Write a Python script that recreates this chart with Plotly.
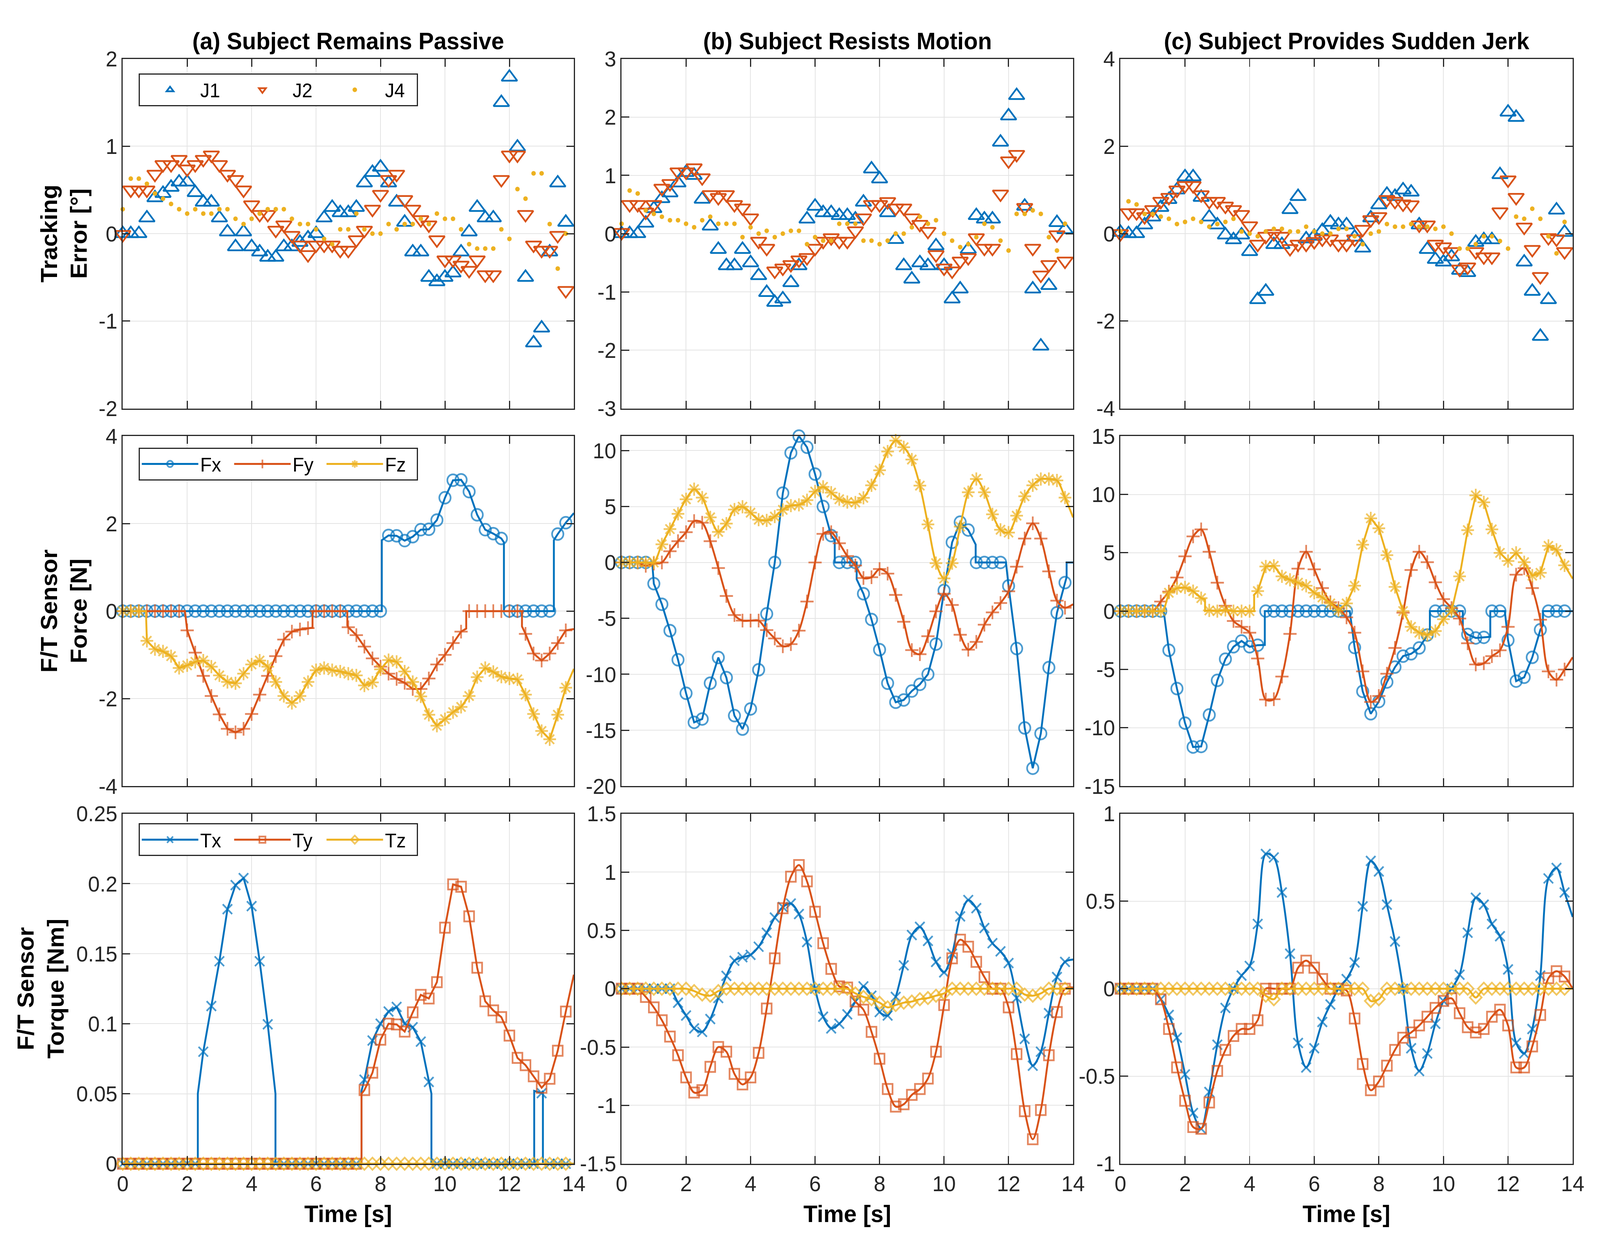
import plotly.graph_objects as go

BLUE = "#0072BD"
ORANGE = "#D95319"
YELLOW = "#EDB120"
FONT = "Liberation Sans, Arial, sans-serif"

# ---------------- sample times (markers every 0.25 s) ----------------
TIME = [0.0, 0.25, 0.5, 0.75, 1.0, 1.25, 1.5, 1.75, 2.0, 2.25, 2.5, 2.75,
        3.0, 3.25, 3.5, 3.75, 4.0, 4.25, 4.5, 4.75, 5.0, 5.25, 5.5, 5.75,
        6.0, 6.25, 6.5, 6.75, 7.0, 7.25, 7.5, 7.75, 8.0, 8.25, 8.5, 8.75,
        9.0, 9.25, 9.5, 9.75, 10.0, 10.25, 10.5, 10.75, 11.0, 11.25, 11.5, 11.75,
        12.0, 12.25, 12.5, 12.75, 13.0, 13.25, 13.5, 13.75]
T_END = 14.0

# ---------------- Row 1: tracking error [deg] ----------------
J1_a = [0, 0, 0, 0.18, 0.41, 0.46, 0.53, 0.59, 0.59, 0.47, 0.36, 0.36,
        0.18, 0.02, -0.15, 0.02, -0.15, -0.21, -0.27, -0.27, -0.15, -0.15, -0.10, -0.05,
        0.0, 0.18, 0.30, 0.24, 0.24, 0.30, 0.58, 0.70, 0.76, 0.58, 0.36, 0.13,
        -0.21, -0.21, -0.50, -0.55, -0.50, -0.45, -0.21, 0.02, 0.30, 0.18, 0.18, 1.50,
        1.79, 0.99, -0.50, -1.25, -1.08, -0.21, 0.58, 0.13]
J2_a = [-0.01, 0.5, 0.5, 0.5, 0.68, 0.79, 0.79, 0.85, 0.74, 0.79, 0.85, 0.90,
        0.79, 0.68, 0.62, 0.50, 0.33, 0.22, 0.22, 0.04, 0.10, -0.02, -0.13, -0.24,
        -0.13, -0.13, -0.13, -0.19, -0.19, -0.07, 0.04, 0.28, 0.45, 0.62, 0.68, 0.39,
        0.28, 0.16, 0.10, -0.07, -0.30, -0.30, -0.36, -0.42, -0.30, -0.47, -0.47, 0.62,
        0.90, 0.90, 0.22, -0.13, -0.19, -0.19, -0.02, -0.65]
J4_a = [0.28, 0.63, 0.63, 0.57, 0.46, 0.40, 0.34, 0.28, 0.23, 0.28, 0.23, 0.23,
        0.28, 0.28, 0.17, 0.11, 0.17, 0.23, 0.28, 0.28, 0.28, 0.17, 0.11, 0.11,
        0.05, -0.06, -0.12, 0.05, 0.05, 0.23, 0.05, 0.0, 0.0, 0.11, 0.05, 0.11,
        0.11, 0.17, 0.11, 0.23, 0.17, 0.17, 0.05, -0.12, -0.17, -0.17, -0.17, 0.05,
        -0.06, 0.51, 0.40, 0.69, 0.69, 0.11, -0.40, 0.0]

J1_b = [0, 0, 0, 0.18, 0.43, 0.60, 0.70, 0.87, 1.05, 1.00, 0.59, 0.13,
        -0.27, -0.55, -0.55, -0.27, -0.50, -0.72, -1.01, -1.18, -1.12, -0.84, -0.55, 0.25,
        0.47, 0.36, 0.36, 0.31, 0.31, 0.25, 0.54, 1.11, 0.94, 0.36, -0.10, -0.55,
        -0.78, -0.50, -0.55, -0.21, -0.55, -1.12, -0.95, -0.27, 0.31, 0.25, 0.25, 1.57,
        2.02, 2.37, 0.47, -0.95, -1.93, -0.89, 0.19, 0.07]
J2_b = [0.02, 0.50, 0.50, 0.37, 0.50, 0.78, 0.86, 1.06, 1.06, 1.13, 0.96, 0.67,
        0.62, 0.67, 0.50, 0.44, 0.27, -0.13, -0.25, -0.64, -0.59, -0.53, -0.45, -0.41,
        -0.25, -0.13, -0.07, -0.13, -0.13, 0.05, 0.27, 0.50, 0.50, 0.55, 0.44, 0.44,
        0.27, 0.16, 0.04, -0.36, -0.59, -0.64, -0.47, -0.41, -0.07, -0.25, -0.25, 0.68,
        1.25, 1.36, 0.45, -0.25, -0.71, -0.53, -0.02, -0.47]
J4_b = [0.17, 0.74, 0.69, 0.40, 0.34, 0.29, 0.23, 0.23, 0.17, 0.11, 0.23, 0.29,
        0.17, 0.17, 0.17, -0.06, 0.11, 0.0, 0.05, -0.06, 0.0, 0.05, 0.05, -0.18,
        -0.06, -0.12, -0.12, 0.17, 0.17, 0.17, -0.12, -0.12, -0.18, -0.12, 0.0, 0.0,
        0.11, 0.29, 0.17, 0.23, 0.0, -0.12, -0.23, -0.18, -0.06, 0.17, 0.11, -0.12,
        -0.29, 0.34, 0.34, 0.40, 0.34, -0.06, -0.29, 0.17]

J1_c = [0.03, 0, 0, 0.20, 0.38, 0.60, 0.78, 1.00, 1.30, 1.30, 0.83, 0.38,
        0.20, -0.03, -0.14, -0.03, -0.41, -1.51, -1.32, -0.25, -0.25, 0.55, 0.85, -0.12,
        -0.06, 0.07, 0.26, 0.20, 0.20, -0.08, -0.33, 0.36, 0.66, 0.90, 0.85, 1.00,
        0.95, 0.20, -0.36, -0.59, -0.65, -0.53, -0.84, -0.89, -0.20, -0.14, -0.14, 1.35,
        2.78, 2.66, -0.65, -1.32, -2.35, -1.51, 0.54, 0.03]
J2_c = [0, 0.48, 0.48, 0.39, 0.55, 0.74, 0.83, 1.00, 1.10, 1.10, 0.89, 0.74,
        0.74, 0.63, 0.55, 0.44, 0.18, -0.24, -0.06, 0.0, -0.06, -0.34, -0.24, -0.24,
        -0.18, -0.12, -0.12, -0.24, -0.24, -0.12, 0.10, 0.32, 0.39, 0.78, 0.74, 0.68,
        0.66, 0.20, 0.20, -0.24, -0.30, -0.41, -0.81, -0.76, -0.41, -0.53, -0.53, 0.50,
        1.23, 0.83, 0.15, -0.36, -0.98, -0.09, -0.12, -0.41]
J4_c = [0.05, 0.74, 0.67, 0.45, 0.45, 0.39, 0.34, 0.22, 0.27, 0.34, 0.27, 0.16,
        0.22, 0.27, 0.34, 0.05, 0.0, -0.06, 0.05, 0.11, 0.11, 0.05, 0.05, 0.16,
        0.05, 0.0, 0.0, 0.11, 0.11, -0.06, -0.24, 0.0, 0.05, 0.22, 0.16, 0.16,
        0.22, 0.16, 0.16, 0.11, 0.16, 0.0, -0.34, -0.34, -0.24, -0.06, -0.06, -0.17,
        -0.34, 0.39, 0.34, 0.57, 0.34, -0.06, -0.45, 0.27]

# ---------------- Row 2: F/T sensor force [N] ----------------
Fx_a = [0, 0, 0, 0, 0, 0, 0, 0, 0, 0, 0, 0,
        0, 0, 0, 0, 0, 0, 0, 0, 0, 0, 0, 0,
        0, 0, 0, 0, 0, 0, 0, 0, 0, 1.73, 1.72, 1.61,
        1.70, 1.86, 1.87, 2.08, 2.59, 2.99, 3.00, 2.73, 2.20, 1.86, 1.77, 1.66,
        0, 0, 0, 0, 0, 0, 1.76, 2.02]
Fx_a_end = 2.24
Fx_a_steps = [(8.04, 0), (8.04, 1.62), (11.83, 1.57), (11.83, 0), (13.38, 0), (13.38, 1.62)]
Fy_a = [0, 0, 0, 0, 0, 0, 0, 0, -0.44, -0.95, -1.48, -1.94,
        -2.36, -2.69, -2.77, -2.69, -2.35, -1.91, -1.48, -1.03, -0.65, -0.47, -0.42, -0.39,
        0, 0, 0, 0, -0.37, -0.55, -0.81, -1.08, -1.27, -1.43, -1.55, -1.64,
        -1.78, -1.78, -1.54, -1.22, -1.00, -0.73, -0.47, 0, 0, 0, 0, 0,
        0, 0, -0.52, -0.97, -1.13, -0.97, -0.73, -0.44]
Fy_a_end = -0.41
Fy_a_steps = [(1.93, 0), (5.89, -0.38), (5.89, 0), (6.97, 0), (6.97, -0.33),
              (10.66, -0.40), (10.66, 0), (12.39, 0), (12.39, -0.35)]
Fz_a = [0, 0, 0, -0.68, -0.87, -0.92, -1.03, -1.30, -1.24, -1.16, -1.13, -1.27,
        -1.47, -1.62, -1.65, -1.43, -1.22, -1.13, -1.27, -1.62, -1.94, -2.10, -1.94, -1.62,
        -1.35, -1.30, -1.35, -1.38, -1.43, -1.47, -1.70, -1.63, -1.33, -1.12, -1.16, -1.38,
        -1.62, -1.95, -2.37, -2.62, -2.47, -2.31, -2.19, -1.94, -1.51, -1.30, -1.39, -1.50,
        -1.54, -1.56, -1.91, -2.35, -2.74, -2.93, -2.37, -1.75]
Fz_a_end = -1.32
Fz_a_steps = [(0.72, 0)]

Fx_b = [0, 0, 0, 0, -1.9, -3.74, -6.1, -8.7, -11.7, -14.3, -14.0, -10.8,
        -8.5, -10.3, -13.7, -14.9, -13.1, -9.6, -4.6, 0.0, 6.2, 9.8, 11.3, 10.3,
        7.9, 5.0, 2.4, 0, 0, 0, -2.8, -5.1, -7.8, -10.8, -12.5, -12.3,
        -11.5, -10.9, -10.0, -7.3, -2.5, 1.8, 3.6, 2.9, 0, 0, 0, 0,
        -2.1, -7.7, -14.8, -18.4, -15.3, -9.4, -4.5, -1.8]
Fx_b_end = 0
Fx_b_steps = [(0.95, 0), (6.61, 2.0), (6.61, 0), (7.29, 0), (7.29, -1.5),
              (10.98, 1.6), (10.98, 0), (11.92, 0), (13.8, -1.3), (13.8, 0)]
Fy_b = [0, 0, 0, -0.3, -0.1, 0.0, 1.0, 1.9, 2.7, 3.7, 3.55, 1.9,
        -0.5, -3.0, -4.7, -5.2, -5.2, -5.2, -6.05, -6.8, -7.5, -7.3, -6.1, -3.5,
        0.0, 2.56, 2.7, 1.72, 0.57, -0.27, -1.39, -1.32, -0.59, -1.0, -2.9, -5.3,
        -7.84, -8.2, -6.6, -4.37, -2.8, -3.8, -6.47, -7.8, -7.1, -5.57, -4.47, -3.63,
        -2.58, -0.38, 2.14, 3.5, 2.14, -0.8, -3.42, -4.05]
Fy_b_end = -3.74
Fz_b = [0, 0, 0, 0, 0, 1.62, 2.98, 4.35, 5.65, 6.55, 5.8, 4.03,
        2.73, 3.47, 4.73, 4.98, 4.45, 3.82, 3.76, 4.1, 4.7, 5.08, 5.15, 5.57,
        6.34, 6.76, 6.24, 5.65, 5.4, 5.36, 5.78, 6.9, 8.24, 9.92, 10.9, 10.3,
        9.2, 6.87, 3.4, -0.06, -1.43, -0.06, 3.2, 6.28, 7.46, 6.28, 4.3, 2.92,
        2.67, 4.18, 5.92, 6.9, 7.46, 7.46, 7.33, 5.8]
Fz_b_end = 4.03

Fx_c = [0, 0, 0, 0, 0, 0, -3.36, -6.64, -9.6, -11.65, -11.6, -8.9,
        -5.94, -4.12, -3.06, -2.56, -3.06, -2.92, 0, 0, 0, 0, 0, 0,
        0, 0, 0, 0, 0, -3.12, -6.88, -8.8, -7.75, -6.08, -4.8, -3.86,
        -3.66, -3.16, -2.05, 0, 0, 0, 0, -2.0, -2.3, -2.25, 0, 0,
        -2.5, -6.0, -5.67, -3.96, -1.6, 0, 0, 0]
Fx_c_end = 0
Fx_c_steps = [(1.34, 0), (4.47, -2.9), (4.47, 0), (7.1, 0), (9.58, -1.8), (9.58, 0),
              (10.6, 0), (10.6, -1.6), (11.45, -2.2), (11.45, 0), (11.9, 0),
              (13.08, -1.2), (13.08, 0)]
Fy_c = [0, 0, 0, 0, 0, 0.82, 1.67, 2.88, 4.69, 6.4, 7.0, 5.09,
        2.43, 0.46, -0.85, -1.35, -1.85, -4.06, -7.59, -7.55, -5.61, -1.95, 3.64, 5.09,
        3.58, 1.97, 0.76, 0.26, -0.54, -1.85, -5.17, -7.79, -7.28, -5.37, -3.16, -0.14,
        3.52, 5.09, 4.19, 2.47, 1.03, 0.26, -0.64, -2.76, -4.57, -4.47, -3.86, -3.36,
        -1.35, 3.12, 3.68, 1.97, -0.74, -5.17, -5.88, -5.01]
Fy_c_end = -3.96
Fz_c = [0, 0, 0, 0, 0, 0, 1.57, 1.97, 2.03, 1.71, 1.11, 0.06,
        0, 0.1, 0, 0, 0, 1.71, 3.82, 3.88, 2.98, 2.68, 2.43, 2.17,
        1.57, 1.17, 0.66, 0.06, 0.66, 2.17, 5.69, 7.95, 7.1, 4.79, 2.07, 0,
        -1.35, -1.85, -2.05, -1.71, -0.7, 0, 2.98, 6.94, 9.92, 9.32, 7.0, 4.99,
        4.29, 4.99, 4.19, 3.04, 3.28, 5.59, 5.25, 3.92]
Fz_c_end = 2.78
Fz_c_steps = [(1.34, 0), (2.62, 1.0), (2.62, 0), (4.14, 0), (4.14, 1.4)]

# ---------------- Row 3: F/T sensor torque [Nm] ----------------
Tx_a = [0, 0, 0, 0, 0, 0, 0, 0, 0, 0, 0.08, 0.1126,
        0.1446, 0.1818, 0.199, 0.204, 0.184, 0.1446, 0.0996, 0, 0, 0, 0, 0,
        0, 0, 0, 0, 0, 0, 0.06, 0.088, 0.1, 0.1087, 0.112, 0.1,
        0.0975, 0.0872, 0.0584, 0, 0, 0, 0, 0, 0, 0, 0, 0,
        0, 0, 0, 0, 0.0504, 0, 0, 0]
Tx_a_end = 0
Tx_a_steps = [(2.33, 0), (2.33, 0.05), (4.74, 0.05), (4.74, 0), (7.41, 0), (7.41, 0.052),
              (9.58, 0.05), (9.58, 0), (12.77, 0), (12.77, 0.052), (13.04, 0.052), (13.04, 0)]
Ty_a = [0, 0, 0, 0, 0, 0, 0, 0, 0, 0, 0, 0,
        0, 0, 0, 0, 0, 0, 0, 0, 0, 0, 0, 0,
        0, 0, 0, 0, 0, 0, 0.0526, 0.065, 0.0886, 0.1, 0.0995, 0.0944,
        0.1081, 0.1206, 0.118, 0.1297, 0.1686, 0.1995, 0.1978, 0.1767, 0.14, 0.116, 0.1095, 0.1047,
        0.0915, 0.0756, 0.0704, 0.0624, 0.0543, 0.0607, 0.0807, 0.1087]
Ty_a_end = 0.135
Ty_a_steps = [(7.41, 0), (7.41, 0.05)]
Tz_a = [0, 0, 0, 0, 0, 0, 0, 0, 0, 0, 0, 0,
        0, 0, 0, 0, 0, 0, 0, 0, 0, 0, 0, 0,
        0, 0, 0, 0, 0, 0, 0, 0, 0, 0, 0, 0,
        0, 0, 0, 0, 0, 0, 0, 0, 0, 0, 0, 0,
        0, 0, 0, 0, 0, 0, 0, 0]
Tz_a_end = 0

Tx_b = [0, 0, 0, 0, 0, 0, 0, -0.12, -0.23, -0.34, -0.37, -0.26,
        -0.08, 0.11, 0.24, 0.27, 0.29, 0.36, 0.48, 0.61, 0.70, 0.73, 0.64, 0.40,
        0, -0.24, -0.34, -0.30, -0.22, -0.11, 0.02, -0.06, -0.20, -0.23, -0.07, 0.20,
        0.46, 0.53, 0.41, 0.23, 0.14, 0.30, 0.62, 0.76, 0.69, 0.52, 0.39, 0.32,
        0.22, -0.08, -0.43, -0.66, -0.54, -0.21, 0.10, 0.23]
Tx_b_end = 0.25
Ty_b = [0, 0, 0, -0.07, -0.16, -0.27, -0.41, -0.57, -0.76, -0.89, -0.87, -0.67,
        -0.50, -0.54, -0.73, -0.82, -0.76, -0.55, -0.17, 0.26, 0.69, 0.96, 1.06, 0.92,
        0.66, 0.39, 0.17, 0.02, 0.01, -0.11, -0.18, -0.37, -0.60, -0.86, -1.01, -0.99,
        -0.91, -0.86, -0.77, -0.54, -0.14, 0.26, 0.42, 0.36, 0.23, 0.10, 0.0, 0.0,
        -0.16, -0.56, -1.05, -1.29, -1.04, -0.57, -0.20, 0.0]
Ty_b_end = 0.01
Tz_b = [0, 0, 0, 0, 0, 0, 0, 0, 0, -0.02, -0.05, -0.06,
        -0.02, 0, 0, 0, 0, 0, 0, 0, 0, 0, 0, 0,
        0, 0, 0, 0, 0, -0.04, -0.07, -0.09, -0.12, -0.16, -0.14, -0.12,
        -0.11, -0.09, -0.08, -0.06, -0.04, 0, 0, 0, 0, 0, 0, 0,
        0, 0, -0.05, -0.06, -0.04, 0, 0, 0]
Tz_b_end = 0

Tx_c = [0, 0, 0, 0, 0, -0.06, -0.15, -0.28, -0.49, -0.71, -0.80, -0.59,
        -0.32, -0.11, 0, 0.075, 0.13, 0.37, 0.77, 0.75, 0.55, 0.20, -0.31, -0.45,
        -0.34, -0.19, -0.09, 0, 0.055, 0.15, 0.47, 0.73, 0.67, 0.48, 0.27, 0,
        -0.34, -0.47, -0.37, -0.20, -0.07, 0, 0.08, 0.32, 0.52, 0.48, 0.37, 0.30,
        0.11, -0.31, -0.37, -0.23, 0.075, 0.63, 0.69, 0.55]
Tx_c_end = 0.41
Ty_c = [0, 0, 0, 0, 0, -0.06, -0.23, -0.45, -0.64, -0.79, -0.80, -0.65,
        -0.47, -0.35, -0.27, -0.23, -0.23, -0.18, 0, 0, 0, 0, 0.12, 0.16,
        0.12, 0.055, 0, 0, -0.01, -0.17, -0.43, -0.58, -0.53, -0.44, -0.35, -0.28,
        -0.25, -0.21, -0.16, -0.11, -0.07, -0.055, -0.14, -0.22, -0.25, -0.23, -0.16, -0.12,
        -0.21, -0.45, -0.45, -0.33, -0.15, 0.06, 0.10, 0.07]
Ty_c_end = 0.0
Tz_c = [0, 0, 0, 0, 0, 0, 0, 0, 0, 0, 0, 0,
        0, 0, 0, 0, 0, 0, -0.04, -0.06, 0, 0, 0, 0,
        0, 0, 0, 0, 0, 0, 0, -0.07, -0.06, 0, 0, 0,
        0, 0, 0, 0, 0, 0, 0, 0, -0.05, 0, 0, 0,
        0, 0, 0, 0, 0, 0, 0, 0]
Tz_c_end = 0

# ---------------- axis ticks ----------------
X_TICKS = [0, 2, 4, 6, 8, 10, 12, 14]
X_TICKTEXT = ["0", "2", "4", "6", "8", "10", "12", "14"]
Y_TICKS = [
    [-2, -1, 0, 1, 2], [-3, -2, -1, 0, 1, 2, 3], [-4, -2, 0, 2, 4],
    [-4, -2, 0, 2, 4], [-20, -15, -10, -5, 0, 5, 10], [-15, -10, -5, 0, 5, 10, 15],
    [0, 0.05, 0.1, 0.15, 0.2, 0.25], [-1.5, -1, -0.5, 0, 0.5, 1, 1.5], [-1, -0.5, 0, 0.5, 1],
]
Y_TICKTEXT = [
    ["-2", "-1", "0", "1", "2"], ["-3", "-2", "-1", "0", "1", "2", "3"], ["-4", "-2", "0", "2", "4"],
    ["-4", "-2", "0", "2", "4"], ["-20", "-15", "-10", "-5", "0", "5", "10"],
    ["-15", "-10", "-5", "0", "5", "10", "15"],
    ["0", "0.05", "0.1", "0.15", "0.2", "0.25"], ["-1.5", "-1", "-0.5", "0", "0.5", "1", "1.5"],
    ["-1", "-0.5", "0", "0.5", "1"],
]
Y_RANGES = [[-2, 2], [-3, 3], [-4, 4], [-4, 4], [-20, 11.3], [-15, 15],
            [0, 0.25], [-1.5, 1.5], [-1, 1]]

COL_TITLES = ["(a) Subject Remains Passive", "(b) Subject Resists Motion",
              "(c) Subject Provides Sudden Jerk"]
ROW_TITLES = ["Tracking<br>Error [°]", "F/T Sensor<br>Force [N]", "F/T Sensor<br>Torque [Nm]"]
X_TITLE = "Time [s]"

# ---------------- layout geometry (pixels) ----------------
W, H = 4244, 3197
COL_PX = [(313, 1523), (1651, 2862), (2989, 4202)]
ROW_PX = [(122, 1035), (1107, 2021), (2093, 3007)]

STYLE = {
    "J1": dict(color=BLUE, symbol="triangle-up-open", size=36),
    "J2": dict(color=ORANGE, symbol="triangle-down-open", size=36),
    "J4": dict(color=YELLOW, symbol="circle", size=12),
    "Fx": dict(color=BLUE, symbol="circle-open", size=30),
    "Fy": dict(color=ORANGE, symbol="cross-thin-open", size=25),
    "Fz": dict(color=YELLOW, symbol="asterisk-open", size=28),
    "Tx": dict(color=BLUE, symbol="x-thin-open", size=25),
    "Ty": dict(color=ORANGE, symbol="square-open", size=26),
    "Tz": dict(color=YELLOW, symbol="diamond-open", size=24),
}
LINE_W = 5
MARKER_LW = 4.5

ROW1 = [[("J1", J1_a), ("J2", J2_a), ("J4", J4_a)],
        [("J1", J1_b), ("J2", J2_b), ("J4", J4_b)],
        [("J1", J1_c), ("J2", J2_c), ("J4", J4_c)]]
ROW2 = [[("Fx", Fx_a, Fx_a_end, Fx_a_steps), ("Fy", Fy_a, Fy_a_end, Fy_a_steps), ("Fz", Fz_a, Fz_a_end, Fz_a_steps)],
        [("Fx", Fx_b, Fx_b_end, Fx_b_steps), ("Fy", Fy_b, Fy_b_end, None), ("Fz", Fz_b, Fz_b_end, None)],
        [("Fx", Fx_c, Fx_c_end, Fx_c_steps), ("Fy", Fy_c, Fy_c_end, None), ("Fz", Fz_c, Fz_c_end, Fz_c_steps)]]
ROW3 = [[("Tx", Tx_a, Tx_a_end, Tx_a_steps), ("Ty", Ty_a, Ty_a_end, Ty_a_steps), ("Tz", Tz_a, Tz_a_end, None)],
        [("Tx", Tx_b, Tx_b_end, None), ("Ty", Ty_b, Ty_b_end, None), ("Tz", Tz_b, Tz_b_end, None)],
        [("Tx", Tx_c, Tx_c_end, None), ("Ty", Ty_c, Ty_c_end, None), ("Tz", Tz_c, Tz_c_end, None)]]

LEGENDS = ["legend", "legend2", "legend3"]

fig = go.Figure()


def axis_names(k):
    return ("x" if k == 1 else f"x{k}"), ("y" if k == 1 else f"y{k}")


for c in range(3):
    # row 1: markers only
    k = c + 1
    xn, yn = axis_names(k)
    for name, vals in ROW1[c]:
        st = STYLE[name]
        fig.add_trace(go.Scatter(
            x=TIME, y=vals, mode="markers", name=name, xaxis=xn, yaxis=yn,
            legend=LEGENDS[0], showlegend=(c == 0), cliponaxis=False,
            marker=dict(symbol=st["symbol"], size=st["size"], color=st["color"],
                        line=dict(width=MARKER_LW if st["symbol"] != "circle" else 0,
                                  color=st["color"])),
        ))
    # rows 2 and 3: lines with markers
    for r, rowdata in ((1, ROW2), (2, ROW3)):
        k = r * 3 + c + 1
        xn, yn = axis_names(k)
        for name, vals, end, steps in rowdata[c]:
            st = STYLE[name]
            pts = [(t, v, st["size"]) for t, v in zip(TIME, vals)]
            pts.append((T_END, end, 0))
            if steps:
                pts += [(t, v, 0) for t, v in steps]
            pts.sort(key=lambda p: p[0])
            fig.add_trace(go.Scatter(
                x=[p[0] for p in pts], y=[p[1] for p in pts], mode="lines+markers",
                name=name, xaxis=xn, yaxis=yn, legend=LEGENDS[r],
                showlegend=(c == 0), cliponaxis=False,
                line=dict(color=st["color"], width=LINE_W,
                          shape="linear" if steps else "spline", smoothing=0.9),
                marker=dict(symbol=st["symbol"], size=[p[2] for p in pts], color=st["color"],
                            line=dict(width=MARKER_LW, color=st["color"])),
            ))

layout = dict(
    width=W, height=H, margin=dict(l=0, r=0, t=0, b=0),
    paper_bgcolor="white", plot_bgcolor="white",
    font=dict(family=FONT, size=55, color="#262626"),
    annotations=[],
)

AX_COMMON = dict(
    showline=True, mirror="ticks", linecolor="#262626", linewidth=3,
    ticks="inside", ticklen=20, tickwidth=3, tickcolor="#262626",
    showgrid=True, gridcolor="#e4e4e4", gridwidth=2, zeroline=False,
    tickfont=dict(family=FONT, size=56, color="#262626"),
)

for r in range(3):
    for c in range(3):
        k = r * 3 + c + 1
        xn, yn = axis_names(k)
        x0, x1 = COL_PX[c]
        y0, y1 = ROW_PX[r]
        layout["xaxis" if k == 1 else f"xaxis{k}"] = dict(
            AX_COMMON, domain=[x0 / W, x1 / W], anchor=yn, range=[0, 14],
            tickmode="array", tickvals=X_TICKS, ticktext=X_TICKTEXT,
            showticklabels=(r == 2),
        )
        layout["yaxis" if k == 1 else f"yaxis{k}"] = dict(
            AX_COMMON, domain=[1 - y1 / H, 1 - y0 / H], anchor=xn, range=Y_RANGES[k - 1],
            tickmode="array", tickvals=Y_TICKS[k - 1], ticktext=Y_TICKTEXT[k - 1],
        )

# column titles and x-axis titles
for c in range(3):
    xc = (COL_PX[c][0] + COL_PX[c][1]) / 2 / W
    layout["annotations"].append(dict(
        text=f"<b>{COL_TITLES[c]}</b>", x=xc, y=1 - 75 / H, xref="paper", yref="paper",
        xanchor="center", yanchor="middle", showarrow=False,
        font=dict(family=FONT, size=61, color="black")))
    layout["annotations"].append(dict(
        text=f"<b>{X_TITLE}</b>", x=xc, y=1 - 3138 / H, xref="paper", yref="paper",
        xanchor="center", yanchor="middle", showarrow=False,
        font=dict(family=FONT, size=61, color="black")))

# row (y-axis) titles
ROW_TITLE_X = [155, 155, 93]
for r in range(3):
    yc = 1 - (ROW_PX[r][0] + ROW_PX[r][1]) / 2 / H
    layout["annotations"].append(dict(
        text=f"<b>{ROW_TITLES[r]}</b>", x=ROW_TITLE_X[r] / W, y=yc, xref="paper", yref="paper",
        xanchor="center", yanchor="middle", showarrow=False, textangle=-90,
        font=dict(family=FONT, size=61, color="black")))

LEG_TOP_PX = [160, 1137, 2118]
for r in range(3):
    layout[LEGENDS[r]] = dict(
        x=356 / W, y=1 - LEG_TOP_PX[r] / H, xanchor="left", yanchor="top",
        orientation="h", bgcolor="white", bordercolor="#262626", borderwidth=3,
        font=dict(family=FONT, size=50, color="black"),
        itemwidth=150, entrywidth=80, entrywidthmode="pixels",
    )

fig.update_layout(**layout)

# page set-up: no default margin/scrollbars, and fit the fixed-size figure to the visible window
PAGE_JS = """
(function () {
  var de = document.documentElement, b = document.body;
  de.style.margin = '0'; b.style.margin = '0';
  de.style.overflow = 'hidden'; b.style.overflow = 'hidden';
  var gd = document.getElementById('{plot_id}');
  function fit() {
    var sx = window.innerWidth / %d, sy = window.innerHeight / %d;
    if (!(sx > 0) || !(sy > 0)) { return; }
    gd.style.transformOrigin = '0 0';
    gd.style.transform = 'scale(' + sx + ',' + sy + ')';
  }
  fit();
  window.addEventListener('resize', fit);
})();
""" % (W, H)
fig.write_html("out.html", post_script=PAGE_JS, config={"displayModeBar": False})
